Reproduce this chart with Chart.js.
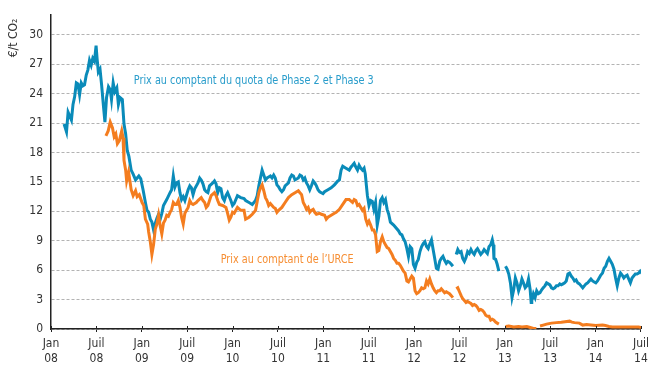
<!DOCTYPE html>
<html>
<head>
<meta charset="utf-8">
<script src="https://cdn.jsdelivr.net/npm/chart.js@4.4.0/dist/chart.umd.min.js"></script>
<style>
  html, body { margin: 0; padding: 0; background: #fff; }
  #wrap { width: 654px; height: 367px; }
</style>
</head>
<body>
<div id="wrap"><canvas id="co2Chart"></canvas></div>
<script>
// months counted from Jan 2008
var tickLabels = [
  ['Jan', '08'], ['Juil', '08'], ['Jan', '09'], ['Juil', '09'], ['Jan', '10'], ['Juil', '10'],
  ['Jan', '11'], ['Juil', '11'], ['Jan', '12'], ['Juil', '12'], ['Jan', '13'], ['Juil', '13'],
  ['Jan', '14'], ['Juil', '14']
];

// EUA spot (phase 2 and phase 3), EUR/t
var euaMonths = [
  1.73,2.05,2.26,2.48,2.70,2.91,3.13,3.35,3.56,3.78,
  4.00,4.21,4.43,4.66,4.87,5.09,5.31,5.52,5.74,5.96,
  6.09,6.26,6.48,6.69,6.95,7.13,7.34,7.60,7.83,8.00,
  8.22,8.44,8.70,8.91,9.13,9.43,9.65,9.87,10.08,10.30,
  10.60,10.86,11.18,11.39,11.61,11.87,12.17,12.48,12.69,12.91,
  13.13,13.34,13.56,13.79,14.00,14.22,14.44,14.65,14.87,15.30,
  15.74,15.95,16.17,16.39,16.60,16.83,17.05,17.26,17.48,17.70,
  18.13,18.35,18.56,18.78,19.00,19.43,19.66,19.86,20.09,20.31,
  20.52,20.74,20.96,21.39,21.61,21.82,22.04,22.26,22.47,22.69,
  22.92,23.13,23.35,23.78,24.00,24.22,24.65,25.08,25.52,25.73,
  26.18,26.61,27.04,27.26,27.48,27.69,27.91,28.13,28.35,28.56,
  28.78,29.00,29.22,29.44,29.65,29.87,30.09,30.30,30.52,30.74,
  30.95,31.39,31.60,31.83,32.05,32.26,32.70,32.91,33.13,33.35,
  33.56,33.78,34.00,34.21,34.43,34.66,34.87,35.09,35.30,35.52,
  35.74,35.96,36.17,36.61,37.04,37.47,37.92,38.13,38.35,38.57,
  39.00,39.43,39.65,39.87,40.08,40.30,40.52,40.73,40.95,41.18,
  41.39,41.55,41.70,41.83,42.04,42.26,42.48,42.69,42.91,43.13,
  43.34,43.56,43.79,44.00,44.22,44.44,44.65,44.87,45.30,45.52,
  45.96,46.17,46.39,46.60,46.82,47.05,47.26,47.48,47.70,47.91,
  48.13,48.35,48.56,48.78,49.00,49.21,49.43,49.65,49.86,50.08,
  50.30,50.52,50.73,50.95,51.17,51.39,51.60,51.82,52.04,52.26,
  52.47,52.69,52.92,53.13,53.35,53.57,53.78,54.00,54.22,54.43,
  54.65,54.87,55.08,55.30,55.52,55.73,55.95,56.17,56.38,56.60,
  56.82,57.04,57.26,57.47,57.69,57.91,58.13,58.34,58.47,58.56,
  58.78,58.99,59.21,59.65,60.09,60.30,60.52,60.74,60.95,61.17,
  61.39,61.60,61.82,62.04,62.26,62.47,62.69,62.91,63.13,63.35,
  63.48,63.56,63.78,64.00,64.21,64.43,64.65,64.87,65.08,65.30,
  65.52,65.74,65.96,66.17,66.39,66.61,66.82,67.04,67.26,67.47,
  67.69,67.91,68.12,68.34,68.56,68.77,68.99,69.21,69.42,69.64,
  69.86,70.08,70.30,70.51,70.73,70.94,71.16,71.38,71.60,71.82,
  72.03,72.25,72.47,72.69,72.91,73.12,73.34,73.56,73.77,73.99,
  74.21,74.43,74.64,74.86,75.08,75.30,75.51,75.73,75.95,76.17,
  76.38,76.60,76.82,77.03,77.25,77.47,77.69,77.90,78.00
];
var euaPrices = [
  20.9,20.1,22.1,21.7,21.3,22.9,23.7,25.1,25.0,23.9,
  25.1,24.8,24.9,25.9,26.4,27.4,26.9,27.6,27.3,28.9,
  27.6,26.2,26.5,24.9,22.6,21.1,23.6,24.7,24.4,23.4,
  25.1,24.2,24.6,22.9,23.6,23.4,20.9,19.9,18.2,17.6,
  16.2,15.8,15.2,15.4,15.6,15.3,14.2,12.9,12.1,11.9,
  11.2,10.9,10.1,10.8,11.3,11.7,11.2,11.8,12.6,13.2,
  13.9,14.2,15.6,14.5,14.9,15.0,13.9,13.2,13.5,13.1,
  14.2,14.6,14.4,13.7,14.3,14.9,15.4,15.2,14.8,14.2,
  14.0,13.9,14.6,14.9,15.1,14.8,13.9,14.4,14.3,13.4,
  13.1,13.6,13.9,13.1,12.6,12.8,13.6,13.4,13.3,13.1,
  12.9,12.7,13.1,13.6,14.6,15.4,16.2,15.7,15.2,15.4,
  15.5,15.6,15.4,15.7,15.4,14.7,14.5,14.2,14.0,14.2,
  14.6,14.9,15.4,15.7,15.6,15.2,15.4,15.7,15.6,15.2,
  15.4,14.9,14.6,14.2,14.6,15.1,14.9,14.6,14.2,14.0,
  13.9,13.8,14.0,14.2,14.4,14.7,15.1,15.2,16.2,16.6,
  16.4,16.2,16.5,16.7,16.9,16.5,16.2,16.7,16.4,16.2,
  16.4,15.8,14.6,13.6,12.6,13.1,13.0,12.2,12.9,10.6,
  11.5,13.1,13.4,12.9,13.2,12.2,11.7,10.9,10.6,10.4,
  10.0,9.7,9.6,9.2,8.9,8.2,7.4,8.4,8.2,6.6,
  6.2,6.8,7.1,7.9,8.4,8.7,8.9,8.4,8.2,8.7,
  9.1,8.1,7.2,6.2,6.1,6.9,7.2,7.4,7.0,6.7,
  6.9,6.8,6.6,6.4,null,7.6,8.1,7.8,7.9,7.2,
  6.9,7.3,7.9,7.7,8.1,7.8,7.6,8.0,8.2,7.9,
  7.6,7.8,8.1,7.9,7.7,8.4,8.6,9.1,8.6,7.2,
  7.1,6.6,5.9,null,6.4,6.1,5.6,4.7,3.2,4.0,
  5.2,4.7,3.9,4.4,5.1,4.7,4.2,4.4,5.1,4.0,
  2.7,2.9,3.6,3.2,3.9,3.6,3.7,4.0,4.2,4.4,
  4.7,4.6,4.5,4.2,4.1,4.2,4.4,4.4,4.6,4.5,
  4.6,4.7,4.9,5.6,5.7,5.4,5.2,4.9,5.0,4.7,
  4.6,4.4,4.2,4.4,4.6,4.7,4.9,5.1,4.9,4.8,
  4.7,4.9,5.2,5.5,5.7,6.2,6.4,6.9,7.2,6.9,
  6.6,6.1,5.2,4.4,5.2,5.7,5.5,5.2,5.4,5.5,
  5.1,4.7,5.2,5.4,5.6,5.6,5.7,5.9,5.8
];

// CER spot, EUR/t
var cerMonths = [
  7.26,7.56,7.83,8.13,8.35,8.57,8.78,9.04,9.35,9.52,
  9.65,9.87,10.00,10.26,10.60,10.86,11.18,11.39,11.67,12.04,
  12.26,12.48,12.78,12.91,13.13,13.34,13.56,13.79,14.00,14.22,
  14.44,14.65,14.87,15.08,15.30,15.52,15.74,15.95,16.17,16.39,
  16.60,16.83,17.05,17.26,17.48,17.70,18.13,18.35,18.56,18.78,
  19.21,19.43,19.86,20.09,20.31,20.52,20.74,20.96,21.17,21.61,
  21.82,22.04,22.26,22.69,23.13,23.35,23.57,23.78,24.00,24.22,
  24.65,25.08,25.52,25.73,26.18,26.61,27.04,27.26,27.48,27.69,
  27.91,28.13,28.35,28.56,28.78,29.00,29.22,29.44,29.65,29.87,
  30.09,30.52,30.95,31.39,31.83,32.26,32.70,32.91,33.13,33.35,
  33.56,33.78,34.00,34.21,34.43,34.66,34.87,35.09,35.52,35.74,
  36.17,36.39,36.61,37.04,37.47,37.70,38.13,38.57,39.00,39.43,
  39.87,40.08,40.30,40.52,40.73,41.18,41.39,41.61,41.83,42.04,
  42.26,42.48,42.69,42.91,43.13,43.34,43.56,43.79,44.00,44.22,
  44.44,44.65,44.87,45.09,45.30,45.52,45.74,45.96,46.17,46.39,
  46.60,46.82,47.05,47.26,47.48,47.70,47.91,48.13,48.35,48.56,
  48.78,49.00,49.21,49.43,49.65,49.86,50.08,50.30,50.52,50.73,
  50.95,51.17,51.39,51.60,51.82,52.04,52.26,52.47,52.69,52.92,
  53.13,53.35,53.57,53.78,54.00,54.22,54.43,54.65,54.87,55.08,
  55.30,55.52,55.73,55.95,56.17,56.38,56.60,56.82,57.04,57.26,
  57.47,57.69,57.91,58.13,58.34,58.56,58.78,58.99,59.21,59.65,
  60.09,60.52,61.17,61.82,62.26,62.91,63.35,63.78,64.17,64.40,
  64.65,65.08,65.52,66.17,66.82,67.47,67.96,68.56,68.87,69.21,
  69.86,70.30,70.82,71.38,72.03,72.91,73.30,73.77,74.21,75.08,
  75.95,76.82,77.69,78.00
];
var cerPrices = [
  19.7,20.2,21.1,20.5,19.6,19.9,18.9,19.2,20.2,19.5,
  17.2,16.2,15.1,16.0,14.2,13.6,14.1,13.5,13.7,12.9,
  12.6,11.2,10.7,9.9,8.9,7.6,8.6,10.2,10.7,11.6,
  10.5,9.7,10.8,11.1,11.6,11.5,11.9,12.2,12.9,12.7,
  12.7,13.1,12.4,11.4,10.7,11.8,12.4,13.1,12.8,12.7,
  12.9,13.1,13.4,13.1,12.9,12.4,12.6,13.1,13.6,13.9,
  13.6,13.1,12.7,12.6,12.4,11.8,11.1,11.4,11.9,11.8,
  12.4,12.1,12.1,11.2,11.4,11.7,12.1,13.0,13.9,14.4,
  14.7,14.1,13.4,13.1,12.6,12.8,12.6,12.4,12.3,11.9,
  12.1,12.4,12.9,13.4,13.7,13.9,14.1,13.9,13.7,12.9,
  12.6,12.2,12.4,11.9,12.1,12.2,11.9,11.7,11.8,11.7,
  11.6,11.2,11.4,11.6,11.8,11.9,12.2,12.7,13.2,13.2,
  12.9,13.2,13.1,12.6,12.7,12.1,12.3,11.2,10.7,11.0,
  10.6,10.1,10.1,9.6,7.9,8.0,8.9,9.4,8.9,8.6,
  8.3,8.2,7.9,7.6,7.2,7.0,6.7,6.7,6.5,6.2,
  5.9,5.7,4.9,4.8,5.1,5.4,5.2,3.9,3.6,3.7,
  3.9,4.2,4.1,4.2,4.9,4.6,5.1,4.6,4.2,3.9,
  3.7,3.9,3.9,4.1,3.9,3.7,3.8,3.7,3.6,3.4,
  3.2,null,4.1,4.2,3.8,3.4,3.1,2.9,2.7,2.8,
  2.7,2.6,2.4,2.5,2.4,2.2,1.9,2.0,1.9,1.7,
  1.4,1.3,1.3,0.9,1.0,0.9,0.7,0.6,0.5,null,
  0.25,0.3,0.2,0.25,0.2,0.25,0.15,0.05,0.05,null,
  0.3,0.4,0.5,0.6,0.65,0.7,0.75,0.8,0.7,0.65,
  0.6,0.4,0.45,0.4,0.35,0.4,0.35,0.25,0.2,0.2,
  0.2,0.2,0.2,0.15
];

var euaLabel = 'Prix au comptant du quota de Phase 2 et Phase 3';
var cerLabel = 'Prix au comptant de l\u2019URCE';

var BLUE = '#0a8bb9';
var ORANGE = '#f47d1f';
var FONT = '"Liberation Sans Narrow", "DejaVu Sans Condensed", Arial, sans-serif';

function toPoints(months, prices) {
  return months.map(function (m, i) { return { x: m, y: prices[i] }; });
}

// series captions, unit label and the little tick stubs above the x axis
var extras = {
  id: 'extras',
  afterDraw: function (chart) {
    var ctx = chart.ctx, xs = chart.scales.x, ys = chart.scales.y;
    ctx.save();
    ctx.strokeStyle = '#222';
    ctx.lineWidth = 1;
    xs.ticks.forEach(function (t) {
      var px = Math.round(xs.getPixelForValue(t.value)) + 0.5;
      ctx.beginPath();
      ctx.moveTo(px, ys.bottom);
      ctx.lineTo(px, ys.bottom - 3);
      ctx.stroke();
    });

    // captions squeezed a little, the original face is a condensed one
    ctx.font = '12px ' + FONT;
    ctx.textBaseline = 'middle';
    ctx.textAlign = 'left';
    ctx.fillStyle = '#2a9dcb';
    ctx.fillText(euaLabel, xs.getPixelForValue(10.94), ys.getPixelForValue(25.3), 240);
    ctx.fillStyle = '#f68e33';
    ctx.fillText(cerLabel, xs.getPixelForValue(22.43), ys.getPixelForValue(7.1), 133);

    ctx.fillStyle = '#333';
    ctx.translate(14, 38);
    ctx.rotate(-Math.PI / 2);
    ctx.textAlign = 'center';
    ctx.fillText('\u20ac/t CO\u2082', 0, 0);
    ctx.restore();
  }
};

var ctx = document.getElementById('co2Chart').getContext('2d');
new Chart(ctx, {
  type: 'line',
  data: {
    datasets: [{
      label: cerLabel,
      data: toPoints(cerMonths, cerPrices),
      borderColor: ORANGE,
      borderWidth: 3,
      pointRadius: 0,
      tension: 0,
      spanGaps: false
    }, {
      label: euaLabel,
      data: toPoints(euaMonths, euaPrices),
      borderColor: BLUE,
      borderWidth: 3,
      pointRadius: 0,
      tension: 0,
      spanGaps: false
    }]
  },
  options: {
    responsive: true,
    maintainAspectRatio: false,
    animation: false,
    layout: { padding: { top: 9, right: 4, left: 0, bottom: 0 } },
    plugins: { legend: { display: false }, tooltip: { enabled: false } },
    scales: {
      x: {
        type: 'linear',
        min: 0,
        max: 78,
        afterFit: function (s) { s.height = 38; },
        ticks: {
          stepSize: 6,
          autoSkip: false,
          maxRotation: 0,
          padding: 5,
          color: '#333',
          font: { family: FONT, size: 12 },
          callback: function (v) { return tickLabels[Math.round(v / 6)]; }
        },
        grid: { drawOnChartArea: false, drawTicks: true, tickLength: 3, color: '#222' },
        border: { color: '#222', width: 1.5 }
      },
      y: {
        min: 0,
        max: 32,
        afterFit: function (s) { s.width = 51; },
        afterBuildTicks: function (s) {
          s.ticks = s.ticks.filter(function (t) { return t.value % 3 === 0; });
        },
        ticks: {
          stepSize: 3,
          padding: 8,
          color: '#333',
          font: { family: FONT, size: 12 }
        },
        grid: { color: '#b3b3b3', lineWidth: 1, drawTicks: false },
        border: { color: '#222', width: 1.5, dash: [3, 2] }
      }
    }
  },
  plugins: [extras]
});
</script>
</body>
</html>
